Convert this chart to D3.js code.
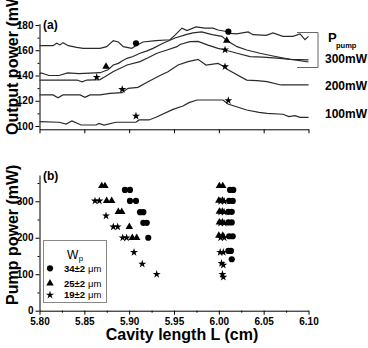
<!DOCTYPE html>
<html>
<head>
<meta charset="utf-8">
<title>Cavity length</title>
<script src="https://d3js.org/d3.v7.min.js"></script>
<style>
  body { margin: 0; background: #fff; }
  svg { font-family: "Liberation Sans", Arial, sans-serif; }
  .tick text { font-weight: bold; font-size: 10px; }
</style>
</head>
<body>
<script>
// ---- data (a): output power vs cavity length, [L (cm), P (mW)]
var c300w34 = [[5.800,163.6],[5.815,163.6],[5.8192,165.5],[5.8229,164.2],[5.8262,166],[5.8321,163.6],[5.8415,162.3],
  [5.8488,161.5],[5.8675,161.5],[5.8749,162.8],[5.8823,167.6],[5.8879,166.5],[5.8935,162.8],[5.9028,161.5],[5.9076,163.6],
  [5.9154,166.5],[5.9299,167.6],[5.9455,168.3],[5.9511,172],[5.9589,177.5],[5.9645,175.5],[5.9745,178.5],[5.9846,177.5],
  [5.9935,177.5],[5.9991,176],[6.0069,175],[6.0125,173.4],[6.0199,173],[6.0327,174.5],[6.0381,172.3],[6.0529,171.8],
  [6.0604,173.7],[6.0715,171],[6.0827,171],[6.0905,172.9],[6.0961,168.4],[6.100,171]];
var c300w25 = [[5.800,141.2],[5.8017,142],[5.8106,140],[5.8217,140],[5.8314,142],[5.8440,141.5],[5.8675,142.2],
  [5.8764,144.5],[5.8823,148.3],[5.8879,149.6],[5.8920,151.5],[5.8976,153.6],[5.9043,155],[5.9121,157.6],[5.9199,159.5],
  [5.9266,161.5],[5.9377,165.5],[5.9511,169.7],[5.9634,172.3],[5.9712,173.7],[5.9809,174.5],[5.9924,172.3],[6.0035,171],
  [6.0088,167.6],[6.0203,162.8],[6.0311,160.2],[6.0459,157.6],[6.0604,155.4],[6.0794,152.8],[6.100,152.4]];
var c300w19 = [[5.800,136.4],[5.8418,136.4],[5.8474,135],[5.8530,136.4],[5.8675,136.8],[5.8730,139],[5.8820,143],
  [5.8976,148.3],[5.9121,151],[5.9199,153.6],[5.9310,157.6],[5.9422,160.2],[5.9533,162.8],[5.9567,164.5],[5.9678,166.8],
  [5.9768,167],[5.9879,164],[5.9991,161.5],[6.0069,160.2],[6.0203,157.6],[6.0348,155],[6.0492,154.5],[6.0682,153.6],
  [6.0827,152.6],[6.100,150.7]];
var c200w19 = [[5.800,124.6],[5.8151,124.6],[5.8206,122.4],[5.8262,124.6],[5.8452,124.6],[5.8507,122.7],[5.8563,124.6],
  [5.8675,124.6],[5.8786,125.9],[5.8920,126.4],[5.8987,129.8],[5.9098,130.6],[5.9210,135.1],[5.9355,140.4],[5.9433,143],
  [5.9545,148.3],[5.9656,151],[5.9745,152.3],[5.9768,152.8],[5.9857,148.3],[5.9991,149.5],[6.0046,147.5],[6.0102,144.6],
  [6.0311,136.4],[6.0426,135.9],[6.0537,135.1],[6.0693,132.5],[6.100,132.5]];
var c100w19 = [[5.800,103.4],[5.8217,103],[5.8296,101.6],[5.8362,104],[5.8463,100.8],[5.8630,100.8],[5.8664,102],
  [5.8719,100.8],[5.8853,103],[5.9076,103],[5.9110,104.8],[5.9221,104.8],[5.9299,106.9],[5.9489,113.2],[5.9600,115.8],
  [5.9667,118.5],[5.9756,120.6],[6.0046,120.6],[6.0102,117.4],[6.0311,112.7],[6.0448,110.8],[6.0537,110],[6.0715,109.3],
  [6.0782,107.4],[6.0849,108.2],[6.0905,106.9],[6.100,106.9]];
var curvesA = [c300w34, c300w25, c300w19, c200w19, c100w19];

var circlesA = [[5.9076,165.5],[6.0106,174.7]];
var trianglesA = [[5.8742,147],[6.0088,167.6]];
var starsA = [[5.8638,138.6],[6.0069,160.3],[5.8923,129],[6.0069,147],[5.9076,107.9],[6.0106,120.2]];

var pumpLabels = ["300mW", "200mW", "100mW"];

// ---- data (b): pump power vs cavity length
var circlesB = [[5.8953,331],[5.9009,331],[5.9009,301],[5.9076,301],[5.9121,270],[5.9158,270],[5.9158,241],[5.9196,241],
  [5.9213,200],[6.0125,331],[6.0161,331],[6.0115,301],[6.0155,301],[6.0106,271],[6.0144,271],[6.0106,242],[6.0144,242],
  [6.0115,204],[6.0155,204],[6.0106,164],[6.0135,164],[6.0144,141]];
var trianglesB = [[5.8694,342],[5.8730,342],[5.8749,301],[5.8805,301],[5.8879,271],[5.8917,271],[5.9002,230],[5.9035,200],
  [5.9084,200],[6.0006,342],[6.0044,342],[6.0000,302],[6.0040,302],[6.0006,272],[6.0040,272],[6.0006,242],[6.0040,242],
  [6.0000,206],[6.0044,206]];
var starsB = [[5.8619,301],[5.8667,301],[5.8742,260],[5.8823,230],[5.8872,230],[5.8928,200],[5.8972,200],[5.9054,160],
  [5.9146,128],[5.9307,100],[6.0020,300],[6.0060,300],[6.0020,270],[6.0060,270],[6.0020,240],[6.0060,240],[6.0020,200],
  [6.0060,200],[6.0015,160],[6.0050,160],[6.0030,130],[6.0050,125],[6.0040,100],[6.0050,92]];

var xTicks = [5.80, 5.85, 5.90, 5.95, 6.00, 6.05, 6.10];
var xMinor = [5.825, 5.875, 5.925, 5.975, 6.025, 6.075];
var yTicksA = [100, 120, 140, 160, 180];
var yMinorA = [110, 130, 150, 170];
var yTicksB = [0, 100, 200, 300];
var yMinorB = [50, 150, 250, 350];
var legendB = [["34±2", "circle"], ["25±2", "triangle"], ["19±2", "star"]];

var W = 368, H = 348;
var svg = d3.select("body").append("svg").attr("width", W).attr("height", H);

var x = d3.scaleLinear().domain([5.80, 6.10]).range([39.5, 308.5]);
var yA = d3.scaleLinear().domain([97.4, 181]).range([129.3, 23.7]);
var yB = d3.scaleLinear().domain([0, 372]).range([310.7, 175]);

var sym = {
  circle: d3.symbol().type(d3.symbolCircle).size(30),
  triangle: d3.symbol().type(d3.symbolTriangle).size(24),
  star: d3.symbol().type(d3.symbolStar).size(20)
};

function axes(yScale, yTicks, yMinor, xBase, labels) {
  svg.append("g").attr("transform", "translate(0," + xBase + ")")
    .call(d3.axisBottom(x).tickValues(xTicks).tickSize(4).tickSizeOuter(0)
      .tickFormat(labels ? d3.format(".2f") : ""));
  if (labels) {
    svg.append("g").attr("transform", "translate(0," + xBase + ")")
      .call(d3.axisBottom(x).tickValues(xMinor).tickSize(2).tickFormat(""))
      .select(".domain").remove();
  }
  svg.append("g").attr("transform", "translate(" + x.range()[0] + ",0)")
    .call(d3.axisLeft(yScale).tickValues(yTicks).tickSize(4).tickSizeOuter(0).tickPadding(2));
  svg.append("g").attr("transform", "translate(" + x.range()[0] + ",0)")
    .call(d3.axisLeft(yScale).tickValues(yMinor).tickSize(2).tickFormat(""))
    .select(".domain").remove();
}

function marks(data, type, yScale) {
  svg.append("g").selectAll("path").data(data).enter().append("path")
    .attr("d", sym[type])
    .attr("transform", function(d) { return "translate(" + x(d[0]) + "," + yScale(d[1]) + ")"; })
    .attr("fill", "#000");
}

// panel (a)
axes(yA, yTicksA, yMinorA, 129.3, false);
var line = d3.line().x(function(d) { return x(d[0]); }).y(function(d) { return yA(d[1]); });
svg.append("g").selectAll("path").data(curvesA).enter().append("path")
  .attr("d", line).attr("fill", "none").attr("stroke", "#2a2a2a").attr("stroke-width", 1.2);
marks(circlesA, "circle", yA);
marks(trianglesA, "triangle", yA);
marks(starsA, "star", yA);

svg.append("path").attr("d", "M297,32.5H318V67.5H297")
  .attr("fill", "none").attr("stroke", "#666").attr("stroke-width", 1);
svg.append("text").attr("x", 328).attr("y", 42).attr("font-size", 13).attr("font-weight", "bold").text("P");
svg.append("text").attr("x", 336).attr("y", 48).attr("font-size", 7.5).attr("font-weight", "bold").text("pump");
svg.selectAll(".pl").data(pumpLabels).enter().append("text")
  .attr("x", 325).attr("y", function(d, i) { return [63, 90, 118][i]; })
  .attr("font-size", 12).attr("font-weight", "bold").text(function(d) { return d; });

svg.append("text").attr("x", 43).attr("y", 29).attr("font-size", 12).attr("font-weight", "bold").text("(a)");
// label runs past the top edge, as in the original figure
svg.append("text").attr("transform", "translate(18,135) rotate(-90)")
  .attr("font-size", 16).attr("font-weight", "bold").text("Output power (mW)");

// panel (b)
axes(yB, yTicksB, yMinorB, 310.7, true);
marks(circlesB, "circle", yB);
marks(trianglesB, "triangle", yB);
marks(starsB, "star", yB);

svg.append("text").attr("x", 43).attr("y", 180).attr("font-size", 12).attr("font-weight", "bold").text("(b)");
svg.append("text").attr("transform", "translate(18,305) rotate(-90)")
  .attr("font-size", 16).attr("font-weight", "bold").text("Pump power (mW)");
svg.append("text").attr("x", 182).attr("y", 340).attr("text-anchor", "middle")
  .attr("font-size", 16).attr("font-weight", "bold").text("Cavity length L (cm)");

// legend
var lg = svg.append("g");
lg.append("rect").attr("x", 43.5).attr("y", 240.5).attr("width", 63).attr("height", 62)
  .attr("fill", "#fff").attr("stroke", "#888");
var wp = lg.append("text").attr("x", 67).attr("y", 258.5).attr("font-size", 12).text("W");
wp.append("tspan").attr("font-size", 8).attr("dx", 0.5).attr("dy", 2).text("p");
legendB.forEach(function(d, i) {
  var yy = [268.3, 283.3, 295][i];
  lg.append("path").attr("d", sym[d[1]]).attr("transform", "translate(50," + yy + ")").attr("fill", "#000");
  var t = lg.append("text").attr("x", 64).attr("y", yy + 3.3).attr("font-size", 9.5);
  t.append("tspan").attr("font-weight", "bold").text(d[0]);
  t.append("tspan").attr("dx", 3).text("μm");
});
</script>
</body>
</html>
